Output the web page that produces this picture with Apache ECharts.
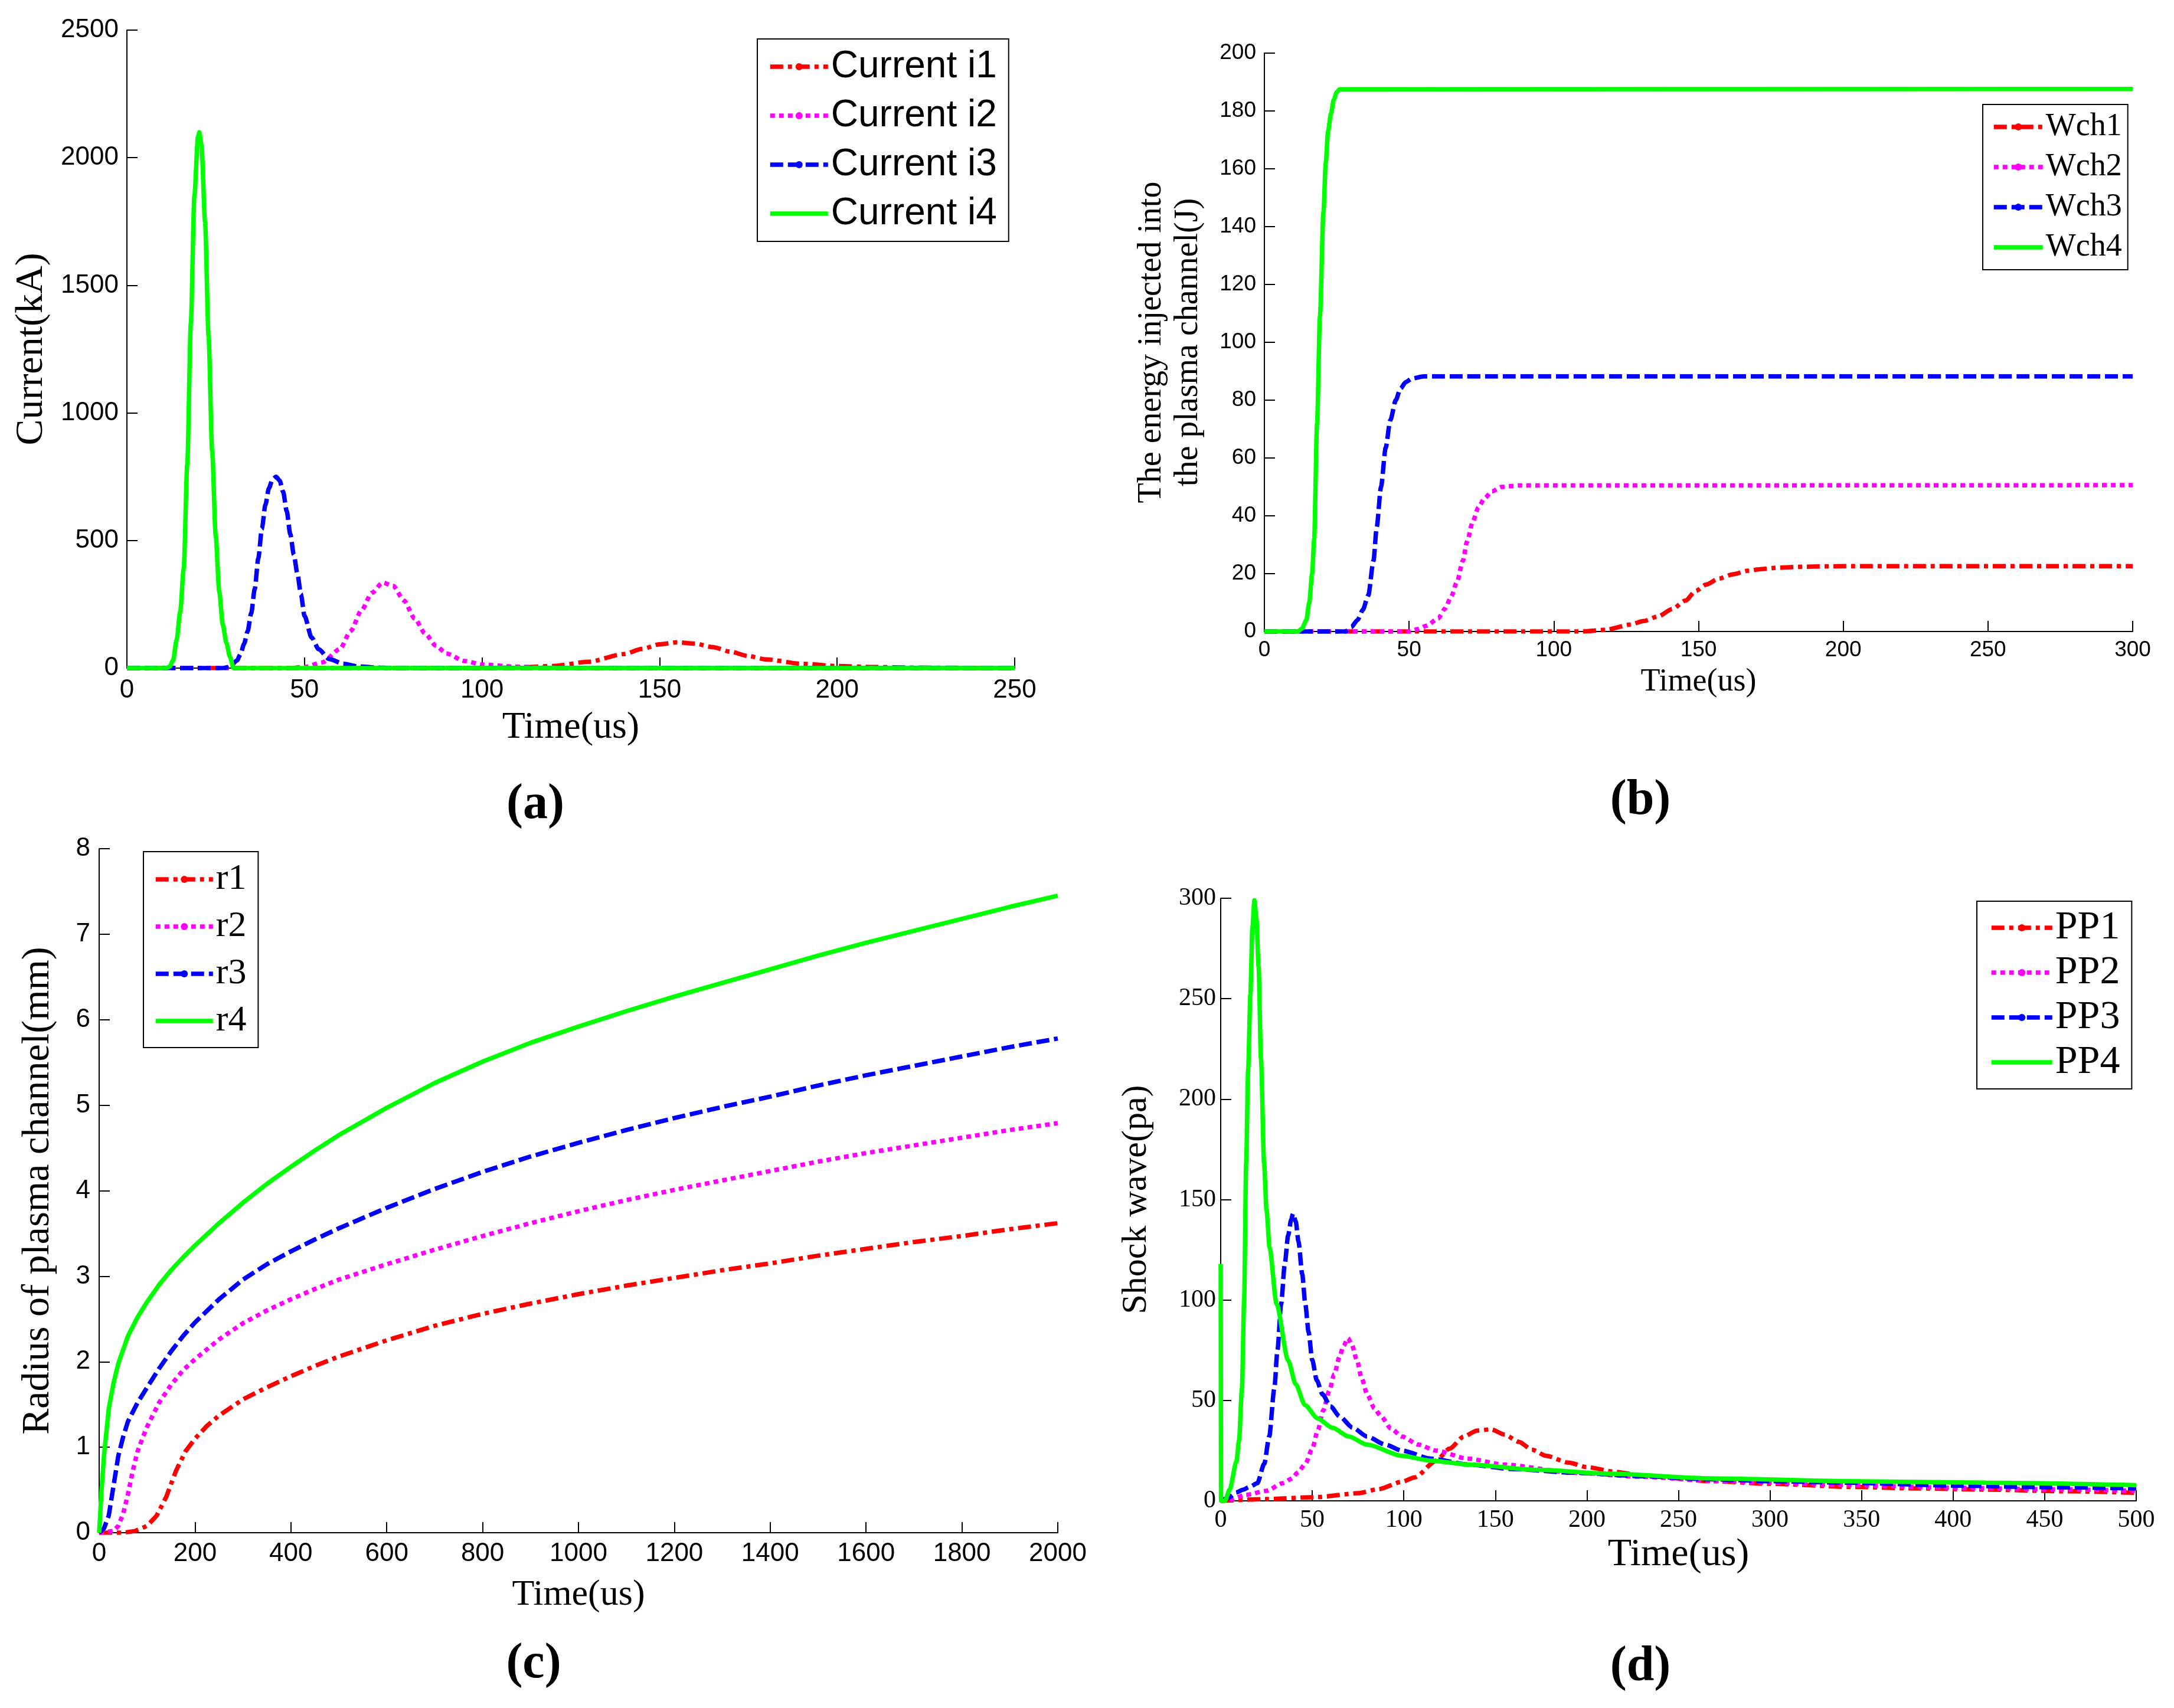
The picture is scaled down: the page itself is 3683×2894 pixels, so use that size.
<!DOCTYPE html>
<html><head><meta charset="utf-8">
<script src="https://cdn.jsdelivr.net/npm/echarts@6/dist/echarts.min.js"></script>
<style>html,body{margin:0;padding:0;background:#fff}#c{width:3683px;height:2894px}</style>
</head><body><div id="c"></div>
<script>
// ---------- DATA ----------
// Panel (a): Current (kA) vs Time (us)
const currentI1 = [[0,0],[100,0],[110,2],[120,8],[130,25],[140,55],[145,75],[150,93],[155,101],[160,96],[165,82],[170,64],[175,47],[180,34],[190,17],[200,8],[210,4],[220,2],[230,1],[250,0]];
const currentI2 = [[0,0],[45,0],[50,4],[55,22],[60,75],[63,145],[66,225],[69,295],[72,335],[75,322],[78,265],[81,195],[84,135],[87,88],[90,57],[95,28],[100,14],[110,5],[120,1],[130,0],[250,0]];
const currentI3 = [[0,0],[27,0],[29,5],[31,30],[32,55],[33,95],[34,145],[35,215],[36,310],[37,430],[38,545],[39,640],[40,705],[41,740],[42,750],[43,735],[44,690],[45,615],[46,525],[47,445],[48,370],[49,290],[50,205],[52,120],[54,74],[57,35],[61,17],[65,7],[70,2],[75,0],[250,0]];
const currentI4 = [[0,0],[11,0],[12,5],[13,30],[14,110],[15,220],[16,390],[17,800],[18,1350],[19,1850],[20,2080],[20.4,2100],[21,2050],[22,1750],[23,1300],[24,850],[25,520],[26,300],[27,170],[28,100],[29,45],[30,0],[250,0]];
const namesA = ['Current i1','Current i2','Current i3','Current i4'];

// Panel (b): Energy injected (J) vs Time (us)
const wch1 = [[0,0],[110,0],[118,0.6],[126.5,2.4],[131,3.6],[136,5.2],[141,7.8],[145.5,10.7],[149,14],[152.6,16.2],[157,18.3],[162,19.8],[167,21],[171.7,21.6],[178,22.1],[186,22.4],[200,22.6],[300,22.6]];
const wch2 = [[0,0],[50,0],[53,0.8],[56,2],[60,4.5],[62.5,8],[64.5,12],[66.5,17],[68.6,24.5],[70,31],[72,38],[74,43],[76,46],[78.7,48.5],[82,50],[88,50.5],[300,50.6]];
const wch3 = [[0,0],[28,0],[30,1.5],[32.2,4],[34,7.5],[35.9,12.5],[37.7,24.5],[38.8,36],[40.3,50],[41.9,63.5],[43.5,73],[45.4,80],[47,84],[48.9,86.3],[51,87.5],[55,88.2],[300,88.2]];
const wch4 = [[0,0],[11.5,0],[13,1],[14.5,4],[15.5,10],[16.5,20],[17.2,32],[18.2,72],[19.2,109],[20.4,145],[21.2,162],[22,173],[23,179],[24,184],[25,186.5],[26,187.5],[300,187.6]];
const namesB = ['Wch1','Wch2','Wch3','Wch4'];

// Panel (c): Radius of plasma channel (mm) vs Time (us)
const r1 = [[0,0],[50,0],[75,0.02],[100,0.08],[120,0.2],[140,0.42],[160,0.72],[180,0.95],[200,1.1],[225,1.25],[250,1.37],[300,1.56],[350,1.7],[400,1.83],[450,1.95],[500,2.06],[600,2.25],[700,2.42],[800,2.56],[900,2.68],[1000,2.79],[1100,2.89],[1200,2.98],[1300,3.07],[1400,3.15],[1500,3.24],[1600,3.32],[1700,3.4],[1800,3.47],[1900,3.55],[2000,3.62]];
const r2 = [[0,0],[30,0.02],[40,0.08],[50,0.22],[60,0.45],[70,0.72],[80,0.95],[90,1.1],[100,1.24],[125,1.52],[150,1.73],[175,1.9],[200,2.03],[250,2.26],[300,2.45],[350,2.6],[400,2.73],[450,2.85],[500,2.96],[600,3.14],[700,3.31],[800,3.47],[900,3.62],[1000,3.76],[1100,3.89],[1200,4.01],[1300,4.12],[1400,4.23],[1500,4.34],[1600,4.44],[1700,4.53],[1800,4.62],[1900,4.71],[2000,4.79]];
const r3 = [[0,0],[10,0.05],[20,0.2],[30,0.55],[40,0.9],[50,1.12],[60,1.3],[80,1.52],[100,1.7],[125,1.92],[150,2.12],[175,2.3],[200,2.46],[250,2.73],[300,2.96],[350,3.14],[400,3.29],[450,3.43],[500,3.56],[600,3.8],[700,4.02],[800,4.22],[900,4.4],[1000,4.56],[1100,4.71],[1200,4.85],[1300,4.98],[1400,5.1],[1500,5.23],[1600,5.35],[1700,5.46],[1800,5.57],[1900,5.68],[2000,5.78]];
const r4 = [[0,0],[5,0.5],[10,0.9],[20,1.45],[30,1.75],[40,1.98],[60,2.3],[80,2.52],[100,2.7],[125,2.9],[150,3.07],[175,3.22],[200,3.36],[250,3.62],[300,3.86],[350,4.08],[400,4.28],[450,4.47],[500,4.65],[600,4.97],[700,5.26],[800,5.51],[900,5.73],[1000,5.92],[1100,6.1],[1200,6.27],[1300,6.43],[1400,6.59],[1500,6.75],[1600,6.9],[1700,7.04],[1800,7.18],[1900,7.32],[2000,7.45]];
const namesC = ['r1','r2','r3','r4'];

// Panel (d): Shock wave (pa) vs Time (us)
const pp1 = [[0,0],[26,0.9],[53,1.9],[75,3.8],[86,5.8],[99,9.5],[106,11.7],[117.7,20],[125,26],[132.7,32],[140,35],[147.7,35.6],[155,33],[162.8,29.4],[170,25.5],[177.8,22.4],[190,19],[200,16.8],[215,14.5],[230,12.6],[268,9.8],[300,8.5],[343,7],[380,6.2],[418,5.6],[460,4.8],[500,4]];
const pp2 = [[0,0],[5,0.5],[13.5,2.9],[25,5],[34,8.8],[38.7,11],[42,14],[46.3,18.5],[50,26],[53,35],[56,45],[59.4,55],[62,63],[65,72],[67,77],[69.5,81],[71.5,78],[74.4,70],[77,61],[80,53],[84,46],[87.6,42],[93,36],[99,32],[108,28],[117.7,25],[135,21],[155,18],[193,14],[230,12],[268,10],[300,9],[343,7.8],[400,6.5],[450,5.8],[500,5]];
const pp3 = [[0,0],[4,1.5],[8.6,4.2],[12,5.5],[16,7],[20,8.8],[23.8,18.5],[26.5,32],[29.3,56],[31,75],[33,98],[35,118],[36.8,132],[38.5,140],[39.5,143],[41,139],[42.5,129],[44.5,113],[46.2,98],[48,84],[50,70],[52.5,60],[55.6,53],[60,47],[65,42],[72,36.5],[80,32],[90,28],[99,25],[115,21],[136,18],[160,15.8],[193,14],[230,12.3],[268,10.7],[300,9.8],[343,9],[400,7.6],[450,6.8],[500,6.2]];
const pp4 = [[0,118],[0.2,0],[2.3,0],[4.9,5.6],[8.6,19.6],[10,30],[11.6,56],[12.8,100],[13.9,168],[15,215],[16.2,252],[17.3,285],[18.4,299],[19.5,290],[20.7,266],[22,220],[23.7,168],[25,145],[26.7,126],[30.5,98],[36.8,70],[41,58],[46,47.7],[53,41],[61,36.4],[70,32],[80,28],[99,22.4],[115,20],[136,18],[174,15.4],[212,13.5],[268,11.2],[343,9.8],[418,9],[500,7.8]];
const namesD = ['PP1','PP2','PP3','PP4'];

// ---------- STYLE ----------
const SANS = 'Liberation Sans', SERIF = 'Liberation Serif';
const LW = 7.5;
const lineStyles = [
  {color:'#ff0000', type:[22,8,7,8]},
  {color:'#ff00ff', type:[8,7]},
  {color:'#0000ff', type:[22,8]},
  {color:'#00ff00', type:'solid'}
];
const panels = [
  {data:[currentI1,currentI2,currentI3,currentI4], names:namesA, smooth:true,
   grid:{left:215,top:51,width:1504,height:1081},
   x:{max:250,interval:50,font:SANS,size:44,margin:16,name:'Time(us)',nameSize:64,nameGap:66},
   y:{max:2500,interval:500,font:SANS,size:44,margin:14,name:'Current(kA)',nameSize:66,nameGap:125},
   legend:{left:1283,top:66,padding:[12,20,12,18],itemWidth:98,font:SANS,size:64,lineHeight:70,gap:13},
   tag:{text:'(a)',x:907,y:1364}},
  {data:[wch1,wch2,wch3,wch4], names:namesB, smooth:true,
   grid:{left:2142,top:90,width:1471,height:980},
   x:{max:300,interval:50,font:SANS,size:37,margin:13,name:'Time(us)',nameSize:54,nameGap:56},
   y:{max:200,interval:20,font:SANS,size:37,margin:14,name:'The energy injected into\nthe plasma channel(J)',nameSize:56,nameGap:98,lineHeight:62},
   legend:{left:3359,top:177,padding:[8,10,8,15],itemWidth:83,font:SERIF,size:54,lineHeight:60,gap:8},
   tag:{text:'(b)',x:2779,y:1357}},
  {data:[r1,r2,r3,r4], names:namesC, smooth:false,
   grid:{left:168,top:1438,width:1624,height:1159},
   x:{max:2000,interval:200,font:SANS,size:44,margin:14,name:'Time(us)',nameSize:62,nameGap:72},
   y:{max:8,interval:1,font:SANS,size:44,margin:15,name:'Radius of plasma channel(mm)',nameSize:66,nameGap:67},
   legend:{left:243,top:1443,padding:[14,20,12,17],itemWidth:97,font:SERIF,size:62,lineHeight:66,gap:14},
   tag:{text:'(c)',x:904,y:2820}},
  {data:[pp1,pp2,pp3,pp4], names:namesD, smooth:true,
   grid:{left:2068,top:1522,width:1551,height:1021},
   x:{max:500,interval:50,font:SERIF,size:42,margin:12,name:'Time(us)',nameSize:66,nameGap:53},
   y:{max:300,interval:50,font:SERIF,size:42,margin:8,name:'Shock wave(pa)',nameSize:60,nameGap:110},
   legend:{left:3349,top:1527,padding:[11,20,11,21],itemWidth:103,font:SERIF,size:68,lineHeight:64,gap:8},
   tag:{text:'(d)',x:2779,y:2825}}
];

function axisCommon(a){
  return {
    type:'value', min:0, max:a.max, interval:a.interval,
    axisLine:{show:true, onZero:false, lineStyle:{color:'#000', width:2}},
    axisTick:{show:true, inside:true, length:18, lineStyle:{color:'#000', width:2}},
    splitLine:{show:false},
    axisLabel:{color:'#000', fontFamily:a.font, fontSize:a.size, margin:a.margin, showMaxLabel:true, showMinLabel:true,
      formatter:function(v){ return String(v); }},
    name:a.name, nameLocation:'middle', nameGap:a.nameGap,
    nameTextStyle:{color:'#000', fontFamily:SERIF, fontSize:a.nameSize, lineHeight:a.lineHeight || Math.round(a.nameSize*1.1)}
  };
}

const option = {
  backgroundColor:'#fff', animation:false,
  grid:[], xAxis:[], yAxis:[], legend:[], series:[], graphic:[]
};
panels.forEach((p,k)=>{
  option.grid.push(Object.assign({containLabel:false}, p.grid));
  option.xAxis.push(Object.assign(axisCommon(p.x), {gridIndex:k}));
  option.yAxis.push(Object.assign(axisCommon(p.y), {gridIndex:k}));
  option.legend.push({
    orient:'vertical', left:p.legend.left, top:p.legend.top, padding:p.legend.padding,
    itemWidth:p.legend.itemWidth, itemHeight:15, itemGap:p.legend.gap,
    backgroundColor:'#fff', borderColor:'#000', borderWidth:2, borderRadius:0,
    selectedMode:false,
    lineStyle:{width:LW},
    textStyle:{color:'#000', fontFamily:p.legend.font, fontSize:p.legend.size, lineHeight:p.legend.lineHeight},
    data:p.names.map((n,i)=> ({
      name:n,
      lineStyle:{width:LW, type:lineStyles[i].type, color:lineStyles[i].color},
      itemStyle: i===3 ? {opacity:0} : {color:lineStyles[i].color}
    }))
  });
  p.data.forEach((d,i)=>{
    option.series.push({
      type:'line', name:p.names[i], data:d, xAxisIndex:k, yAxisIndex:k,
      symbol:'circle', showSymbol:false,
      smooth:p.smooth ? 0.25 : false, smoothMonotone:p.smooth ? 'x' : undefined,
      lineStyle:{color:lineStyles[i].color, width:LW, type:lineStyles[i].type},
      itemStyle:{color:lineStyles[i].color},
      emphasis:{disabled:true}, z:2+i
    });
  });
  option.graphic.push({
    type:'text', x:p.tag.x, y:p.tag.y,
    style:{text:p.tag.text, x:0, y:0, textAlign:'center', textVerticalAlign:'middle',
      font:'bold 84px "Liberation Serif"', fill:'#000'}
  });
});

const chart = echarts.init(document.getElementById('c'), null, {renderer:'canvas', width:3683, height:2894});
chart.setOption(option);
</script>
</body></html>
